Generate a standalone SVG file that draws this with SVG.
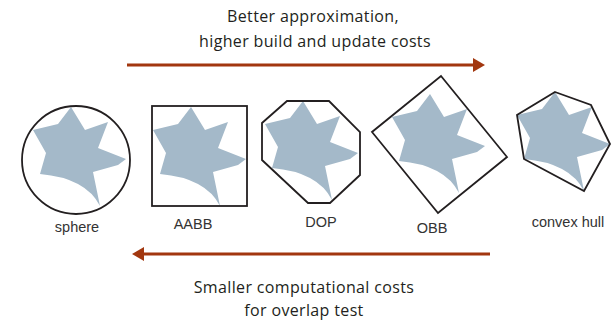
<svg xmlns="http://www.w3.org/2000/svg" width="613" height="322" viewBox="0 0 613 322">
  <defs>
    <style>
      .bv { fill: none; stroke: #231f20; stroke-width: 1.8; stroke-linejoin: miter; }
      .obj { fill: #a4b9c9; stroke: none; }
      .lbl { font-family: "Liberation Sans", Arial, sans-serif; font-size: 14.5px; fill: #333333; text-anchor: middle; }
      .cap { font-family: "Open Sans", "Noto Sans", sans-serif; font-size: 16px; letter-spacing: 0.35px; fill: #231f20; text-anchor: middle; }
      .arr { fill: none; stroke: #a2370f; stroke-width: 3; }
    </style>
    <!-- the same irregular star, origin at its top tip -->
    <path id="star" class="obj" d="M0,0 L14,23 L37,15 L27,41 L55,52 L47,58 L22,65 L29,99 Q15,71 -31,67 L-25,46 L-38,23 L-13,17 Z"/>
    <marker id="head" markerUnits="userSpaceOnUse" markerWidth="14" markerHeight="16" refX="0" refY="7" orient="auto" overflow="visible">
      <path d="M0,0 L12,7 L0,14 Z" fill="#a2370f"/>
    </marker>
  </defs>

  <!-- captions -->
  <text class="cap" x="313" y="22">Better approximation,</text>
  <text class="cap" x="315" y="47">higher build and update costs</text>
  <text class="cap" x="304" y="293">Smaller computational costs</text>
  <text class="cap" x="304" y="316">for overlap test</text>

  <g id="connectors">
    <line class="arr" x1="127" y1="65" x2="473" y2="65" marker-end="url(#head)"/>
    <line class="arr" x1="490" y1="254" x2="144" y2="254" marker-end="url(#head)"/>
  </g>

  <g id="sphere">
    <use href="#star" x="71" y="107"/>
    <circle class="bv" cx="76" cy="160" r="54"/>
    <text class="lbl" x="77" y="232">sphere</text>
  </g>

  <g id="aabb">
    <use href="#star" x="191" y="107"/>
    <rect class="bv" x="152" y="106" width="95" height="100"/>
    <text class="lbl" x="193" y="229">AABB</text>
  </g>

  <g id="dop">
    <use href="#star" x="303" y="101"/>
    <polygon class="bv" points="287,101 329,101 360,132 360,175 330,203 308,203 262,160 262,123"/>
    <text class="lbl" x="321" y="227">DOP</text>
  </g>

  <g id="obb">
    <use href="#star" x="430" y="94"/>
    <polygon class="bv" points="441,76 507,157 438,213 372,132"/>
    <text class="lbl" x="432" y="233">OBB</text>
  </g>

  <g id="convex-hull">
    <use href="#star" x="555" y="92"/>
    <polygon class="bv" points="555,92 591,105 610,144 584,191 524,159 517,115"/>
    <text class="lbl" x="568" y="227">convex hull</text>
  </g>
</svg>
